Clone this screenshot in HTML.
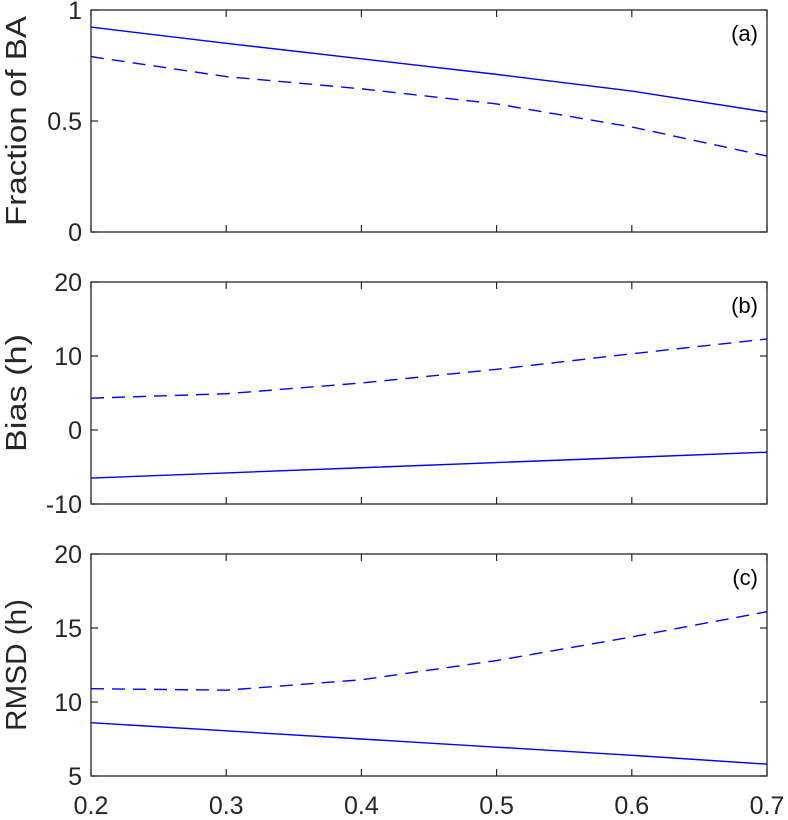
<!DOCTYPE html>
<html><head><meta charset="utf-8"><style>
body{margin:0;background:#fff}
svg{display:block;font-family:"Liberation Sans",Arial,sans-serif}
</style></head><body>
<svg id="chart" width="788" height="820" viewBox="0 0 788 820"></svg>
<script>
const xCats=[0.2,0.3,0.4,0.5,0.6,0.7];
const xTicks=['0.2','0.3','0.4','0.5','0.6','0.7'];
const aSolid=[0.923,0.85,0.78,0.71,0.635,0.54];
const aDashed=[0.79,0.70,0.645,0.577,0.473,0.342];
const bSolid=[-6.5,-5.8,-5.1,-4.4,-3.7,-3.0];
const bDashed=[4.3,4.9,6.35,8.2,10.3,12.3];
const cSolid=[8.6,8.05,7.5,6.95,6.4,5.8];
const cDashed=[10.9,10.8,11.5,12.8,14.4,16.1];
const aTicks=[0,0.5,1], bTicks=[-10,0,10,20], cTicks=[5,10,15,20];

const svg=document.getElementById('chart');
const NS='http://www.w3.org/2000/svg';
const L=91,R=767,H=222;
function mk(t,a,p){const e=document.createElementNS(NS,t);for(const k in a)e.setAttribute(k,a[k]);(p||svg).appendChild(e);return e;}
const xs=v=>L+(v-0.2)/0.5*(R-L);
const panels=[
 {name:'a',top:10,min:0,max:1,ticks:aTicks,lab:'Fraction of BA',len:210,solid:aSolid,dashed:aDashed},
 {name:'b',top:282,min:-10,max:20,ticks:bTicks,lab:'Bias (h)',len:118,solid:bSolid,dashed:bDashed},
 {name:'c',top:554,min:5,max:20,ticks:cTicks,lab:'RMSD (h)',len:132,solid:cSolid,dashed:cDashed}
];
panels.forEach((p,pi)=>{
 const g=mk('g',{});
 
 
 const ys=v=>p.top+H-(v-p.min)/(p.max-p.min)*H;
 const fr=mk('rect',{x:L,y:p.top,width:R-L,height:H,fill:'#fff',stroke:'#262626','stroke-width':1.3},g);
 
 
 p.ticks.forEach(t=>{
  const y=ys(t);
  mk('line',{x1:L,x2:L+7,y1:y,y2:y,stroke:'#262626','stroke-width':1.2},g);
  mk('line',{x1:R,x2:R-7,y1:y,y2:y,stroke:'#262626','stroke-width':1.2},g);
  const tx=mk('text',{x:L-9,y:y+9,'text-anchor':'end','font-size':25,fill:'#262626'},g);
  tx.textContent=String(t);
  
  
 });
 xCats.forEach((c,i)=>{
  const x=xs(c);
  mk('line',{x1:x,x2:x,y1:p.top+H,y2:p.top+H-7,stroke:'#262626','stroke-width':1.2},g);
  mk('line',{x1:x,x2:x,y1:p.top,y2:p.top+7,stroke:'#262626','stroke-width':1.2},g);
  if(pi===2){
   const tx=mk('text',{x:x,y:p.top+H+38,'text-anchor':'middle','font-size':25,fill:'#262626'},g);
   tx.textContent=xTicks[i];
   
   
  }
 });
 const yl=mk('text',{transform:`translate(26,${p.top+H/2}) rotate(-90)`,'text-anchor':'middle','font-size':29,fill:'#262626',textLength:p.len,lengthAdjust:'spacingAndGlyphs'},g);
 yl.textContent=p.lab;
 
 
 const pl=mk('text',{x:R-9,y:p.top+31,'text-anchor':'end','font-size':22,fill:'#000'},g);
 pl.textContent='('+p.name+')';
 
 
 const pts=arr=>arr.map((v,i)=>xs(xCats[i])+','+ys(v)).join(' ');
 const s=mk('polyline',{points:pts(p.solid),fill:'none',stroke:'#0000ff','stroke-width':1.4},g);
 
 
 const d=mk('polyline',{points:pts(p.dashed),fill:'none',stroke:'#0000ff','stroke-width':1.4,'stroke-dasharray':'13 8'},g);
 
 
});
</script>
</body></html>
